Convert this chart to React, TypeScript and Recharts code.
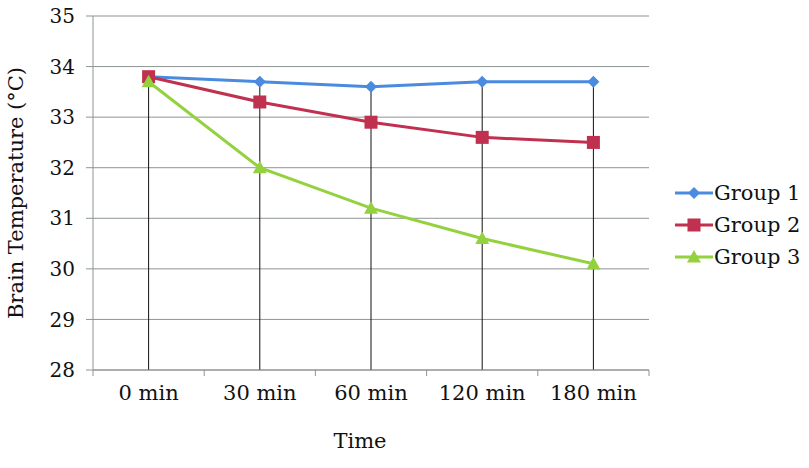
import {
  ComposedChart,
  Line,
  ErrorBar,
  XAxis,
  YAxis,
  CartesianGrid,
  Legend,
} from 'recharts'

const TIMES = ['0 min', '30 min', '60 min', '120 min', '180 min']
const GROUP1 = [33.8, 33.7, 33.6, 33.7, 33.7]
const GROUP2 = [33.8, 33.3, 32.9, 32.6, 32.5]
const GROUP3 = [33.7, 32.0, 31.2, 30.6, 30.1]
const Y_TICKS = [28, 29, 30, 31, 32, 33, 34, 35]
const X_TICKS = [-0.5, 0, 0.5, 1, 1.5, 2, 2.5, 3, 3.5, 4, 4.5]

const Y_MIN = Y_TICKS[0]
const Y_MAX = Y_TICKS[Y_TICKS.length - 1]

const FONT = '"DejaVu Serif", serif'
const GRID = '#8e9494'
const BLUE = '#4a8be0'
const RED = '#c0304f'
const GREEN = '#94d13f'

const data = TIMES.map((time, i) => {
  const top = Math.max(GROUP1[i], GROUP2[i], GROUP3[i])
  return {
    idx: i,
    time,
    g1: GROUP1[i],
    g2: GROUP2[i],
    g3: GROUP3[i],
    top,
    drop: [top - Y_MIN, 0], // drop line down to the axis
  }
})

function Marker({ kind, cx, cy, color }: { kind: string; cx: number; cy: number; color: string }) {
  if (kind === 'diamond') {
    const r = 6
    return <polygon points={`${cx},${cy - r} ${cx + r},${cy} ${cx},${cy + r} ${cx - r},${cy}`} fill={color} />
  }
  if (kind === 'square') {
    const r = 6.5
    return <rect x={cx - r} y={cy - r} width={r * 2} height={r * 2} fill={color} />
  }
  const r = 7
  return <polygon points={`${cx},${cy - r} ${cx + r},${cy + r * 0.8} ${cx - r},${cy + r * 0.8}`} fill={color} />
}

const makeDot = (kind: string, color: string) => (props: any) => (
  <Marker key={`${kind}-${props.index}`} kind={kind} cx={props.cx} cy={props.cy} color={color} />
)

const SERIES = [
  { key: 'g1', name: 'Group 1', color: BLUE, kind: 'diamond' },
  { key: 'g2', name: 'Group 2', color: RED, kind: 'square' },
  { key: 'g3', name: 'Group 3', color: GREEN, kind: 'triangle' },
]

function XTick(props: any) {
  const { x, y, payload } = props
  const v = payload.value
  if (!Number.isInteger(v)) {
    return <line x1={x} x2={x} y1={y} y2={y + 6} stroke={GRID} strokeWidth={1} />
  }
  return (
    <text x={x} y={y + 30} textAnchor="middle" fontFamily={FONT} fontSize={21} fill="#111">
      {TIMES[v]}
    </text>
  )
}

function LegendContent() {
  return (
    <svg width={134} height={100}>
      {SERIES.map((s, i) => {
        const cy = 12 + i * 32
        return (
          <g key={s.key}>
            <line x1={0} x2={38} y1={cy} y2={cy} stroke={s.color} strokeWidth={3} />
            <Marker kind={s.kind} cx={19} cy={cy} color={s.color} />
            <text x={39} y={cy + 7} fontFamily={FONT} fontSize={21} fill="#111">
              {s.name}
            </text>
          </g>
        )
      })}
    </svg>
  )
}

export default function App() {
  return (
    <div style={{ position: 'absolute', left: 0, top: 0, background: '#fff' }}>
      <ComposedChart width={809} height={468} data={data} margin={{ top: 16, right: 26, left: 0, bottom: 0 }}>
        <CartesianGrid vertical={false} stroke={GRID} />
        <XAxis
          dataKey="idx"
          type="number"
          domain={[-0.5, 4.5]}
          ticks={X_TICKS}
          interval={0}
          tick={<XTick />}
          tickLine={false}
          tickSize={0}
          tickMargin={0}
          axisLine={{ stroke: GRID }}
          height={98}
          label={{
            content: () => (
              <text x={360} y={448} textAnchor="middle" fontFamily={FONT} fontSize={21} fill="#111">
                Time
              </text>
            ),
          }}
        />
        <YAxis
          type="number"
          domain={[Y_MIN, Y_MAX]}
          ticks={Y_TICKS}
          interval={0}
          width={93}
          tickSize={7}
          tickMargin={11}
          tickLine={{ stroke: GRID }}
          axisLine={{ stroke: GRID }}
          tick={{ fontFamily: FONT, fontSize: 20, fill: '#111' }}
          label={{
            content: () => (
              <text
                x={0}
                y={0}
                transform="translate(23 193) rotate(-90)"
                textAnchor="middle"
                fontFamily={FONT}
                fontSize={21}
                fill="#111"
              >
                Brain Temperature (°C)
              </text>
            ),
          }}
        />
        <Line dataKey="top" stroke="none" dot={false} activeDot={false} legendType="none" isAnimationActive={false}>
          <ErrorBar dataKey="drop" direction="y" width={0} stroke="#111" strokeWidth={1} />
        </Line>
        {SERIES.map(s => (
          <Line
            key={s.key}
            dataKey={s.key}
            name={s.name}
            stroke={s.color}
            strokeWidth={3}
            dot={makeDot(s.kind, s.color)}
            activeDot={false}
            isAnimationActive={false}
          />
        ))}
        <Legend
          layout="vertical"
          align="right"
          verticalAlign="middle"
          content={<LegendContent />}
          wrapperStyle={{ left: 675, top: 181, width: 134 }}
        />
      </ComposedChart>
    </div>
  )
}
